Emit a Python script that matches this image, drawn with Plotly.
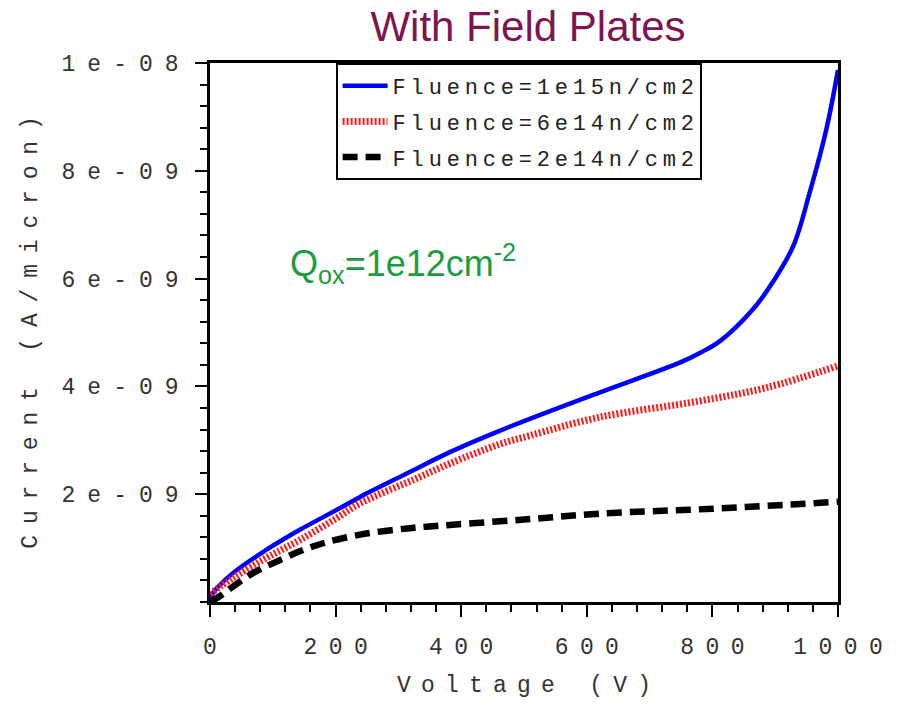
import plotly.graph_objects as go

# Leakage current vs. bias voltage for three fluences (with field plates)
v_1e15 = [0, 5, 37, 90, 143, 202, 239, 318, 382, 462, 621, 748, 780, 812, 866, 897, 929, 955, 982, 1000]
i_1e15 = [0.03, 0.17, 0.54, 0.97, 1.34, 1.71, 1.95, 2.41, 2.78, 3.18, 3.89, 4.44, 4.62, 4.84, 5.45, 5.95, 6.61, 7.6, 8.8, 9.87]

v_6e14 = [0, 37, 90, 143, 202, 239, 334, 382, 462, 510, 621, 780, 887, 1000]
i_6e14 = [0.15, 0.45, 0.82, 1.15, 1.56, 1.83, 2.32, 2.57, 2.93, 3.09, 3.43, 3.73, 3.98, 4.38]

v_2e14 = [0, 16, 37, 69, 106, 143, 180, 239, 318, 382, 500, 621, 800, 1000]
i_2e14 = [0.0, 0.11, 0.29, 0.54, 0.75, 0.94, 1.09, 1.25, 1.37, 1.43, 1.53, 1.64, 1.73, 1.86]

names = ["Fluence=1e15n/cm2", "Fluence=6e14n/cm2", "Fluence=2e14n/cm2"]

y_tickvals = [2e-9, 4e-9, 6e-9, 8e-9, 1e-8]
y_ticktext = ["2e-09", "4e-09", "6e-09", "8e-09", "1e-08"]
x_tickvals = [0, 200, 400, 600, 800, 1000]

MONO = "Liberation Mono, Courier New, monospace"


def spaced(s, gap_px):
    """Letter-spaced text: a small-font space between every character."""
    gap = f'<span style="font-size:{gap_px}px"> </span>'
    return gap.join(list(s))


fig = go.Figure()
series = [
    (v_1e15, i_1e15, names[0], dict(color="#0000ff", width=4.5)),
    (v_6e14, i_6e14, names[1], dict(color="#ff1a1a", width=7, dash="2px,2px")),
    (v_2e14, i_2e14, names[2], dict(color="#000000", width=6.5, dash="15px,8px")),
]
for k, (vx, iy, nm, ln) in enumerate(series):
    fig.add_trace(go.Scatter(
        x=vx, y=[v * 1e-9 for v in iy], mode="lines",
        name=spaced(nm, 8), legendgroup=f"g{k}",
        line=dict(shape="spline", smoothing=1.0, **ln),
    ))

fig.update_layout(
    width=901, height=705,
    margin=dict(l=210, r=63, t=63, b=99),
    paper_bgcolor="white", plot_bgcolor="white",
    showlegend=True,
    legend=dict(
        x=0.2, y=1.0, xanchor="left", yanchor="top",
        bordercolor="black", borderwidth=2, bgcolor="white",
        font=dict(family=MONO, size=22, color="#222"),
        tracegroupgap=4, itemwidth=45,
    ),
    title=dict(
        text="With Field Plates", x=0.586, xanchor="center",
        y=0.962, yanchor="middle",
        font=dict(family="Liberation Sans, Arial", size=42, color="#7e1452"),
    ),
)

fig.update_xaxes(
    range=[0, 1000], showgrid=False, zeroline=False,
    showline=True, linecolor="black", linewidth=2.5, mirror=True,
    ticks="outside", ticklen=12, tickwidth=2, tickcolor="black",
    tickvals=x_tickvals, ticktext=[spaced(str(v), 19) for v in x_tickvals],
    tickfont=dict(family=MONO, size=23, color="#333"),
    ticklabelstandoff=10,
    minor=dict(dtick=40, ticks="outside", ticklen=7, tickwidth=2, tickcolor="black"),
    title=dict(text=spaced("Voltage (V)", 17), standoff=16,
               font=dict(family=MONO, size=23, color="#333")),
)

fig.update_yaxes(
    range=[0, 1e-8], showgrid=False, zeroline=False,
    showline=True, linecolor="black", linewidth=2.5, mirror=True,
    ticks="outside", ticklen=12, tickwidth=2, tickcolor="black",
    tickvals=y_tickvals, ticktext=[spaced(t, 20) for t in y_ticktext],
    tickfont=dict(family=MONO, size=23, color="#333"),
    ticklabelstandoff=12,
    minor=dict(dtick=0.4e-9, ticks="outside", ticklen=7, tickwidth=2, tickcolor="black"),
    title=dict(text=spaced("Current (A/micron)", 18), standoff=18,
               font=dict(family=MONO, size=23, color="#333")),
)

fig.add_annotation(
    x=124, y=6.28e-9, xref="x", yref="y", xanchor="left", yanchor="middle",
    text="Q<sub>ox</sub>=1e12cm<sup>-2</sup>", showarrow=False,
    font=dict(family="Liberation Sans, Arial", size=36, color="#1a9c42"),
)

fig.write_html("out.html")
